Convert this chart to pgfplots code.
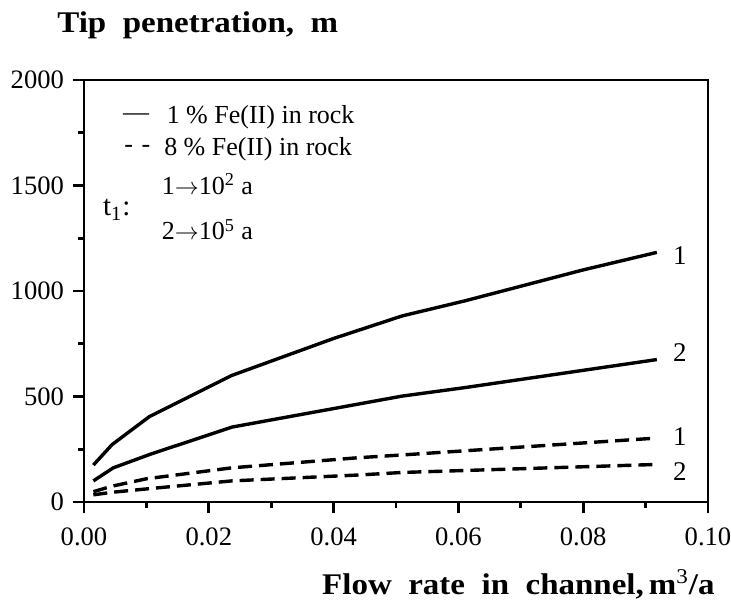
\documentclass[border=0pt]{standalone}
\usepackage{fontspec}
\setmainfont{Liberation Serif}
\newfontfamily\headfont[FakeStretch=1.1]{Liberation Serif}
\usepackage{pgfplots}
\pgfplotsset{compat=1.18}

\newcommand{\arr}{\ensuremath{\rightarrow}}

\begin{document}
\begin{tikzpicture}
\begin{axis}[
  name=ax,
  scale only axis,
  width=312pt, height=211pt,
  xmin=0, xmax=0.1, ymin=0, ymax=2000,
  clip=false,
  axis line style={line width=1.4pt},
  xtick={0,0.02,0.04,0.06,0.08,0.1},
  xticklabels={0.00,0.02,0.04,0.06,0.08,0.10},
  minor xtick={0.01,0.03,0.05,0.07,0.09},
  ytick={0,500,1000,1500,2000},
  yticklabels={0,500,1000,1500,2000},
  minor ytick={250,750,1250,1750},
  tick align=outside, tick pos=left,
  major tick length=5.5pt, minor tick length=3pt,
  every tick/.style={black, line width=1.4pt},
  /pgf/number format/assume math mode=true,
  tick label style={font=\fontsize{13.3}{15}\selectfont},
  xticklabel style={yshift=-4pt},
  yticklabel style={xshift=-1pt},
]
% 1 % Fe(II), t1 = 10^2 a
\addplot[black, line width=1.7pt, line join=round] coordinates {
  (0.0015,175) (0.0045,272) (0.0105,405) (0.0237,600) (0.040,775)
  (0.051,882) (0.061,953) (0.080,1100) (0.0918,1183)};
% 1 % Fe(II), t1 = 10^5 a
\addplot[black, line width=1.7pt, line join=round] coordinates {
  (0.0015,100) (0.0047,162) (0.0105,225) (0.0237,355) (0.051,502)
  (0.061,542) (0.0918,675)};
% 8 % Fe(II), t1 = 10^2 a
\addplot[black, line width=1.7pt, dash pattern=on 7pt off 3.5pt] coordinates {
  (0.0015,49) (0.0045,75) (0.010,110) (0.0237,162) (0.044,210)
  (0.051,223) (0.0918,303)};
% 8 % Fe(II), t1 = 10^5 a
\addplot[black, line width=1.7pt, dash pattern=on 7pt off 3.5pt] coordinates {
  (0.0015,34) (0.0045,46) (0.010,62) (0.0237,100) (0.044,128)
  (0.051,140) (0.0918,178)};

% curve numbers
\begin{scope}[every node/.style={font=\fontsize{13.5}{15}\selectfont}]
\node at (axis cs:0.0955,1170) {1};
\node at (axis cs:0.0955,706) {2};
\node at (axis cs:0.0955,308) {1};
\node at (axis cs:0.0955,142) {2};
\end{scope}

% key
\begin{scope}[every node/.style={font=\fontsize{13}{15}\selectfont, inner sep=0pt}]
\node[anchor=west] at (axis cs:0.0062,1822) {—};
\node[anchor=west] at (axis cs:0.0064,1672) {-\,\,-};
\node[anchor=west] at (axis cs:0.0132,1822) {1 \% Fe(II) in rock};
\node[anchor=west] at (axis cs:0.0128,1672) {8 \% Fe(II) in rock};
\node[anchor=west, font=\fontsize{14.5}{16}\selectfont] at (axis cs:0.0030,1385) {t\textsubscript{1}:};
\node[anchor=west] at (axis cs:0.0124,1505) {1\arr10\textsuperscript{2} a};
\node[anchor=west] at (axis cs:0.0124,1290) {2\arr10\textsuperscript{5} a};
\end{scope}

% axis titles
\node[anchor=base west, inner sep=0pt, font=\headfont\bfseries\fontsize{15}{17}\selectfont]
  at ([shift={(-13.5pt,23.5pt)}]rel axis cs:0,1) {Tip\ \ penetration,\ \ m};
\node[anchor=base east, inner sep=0pt, font=\headfont\bfseries\fontsize{15}{17}\selectfont]
  at ([shift={(3.5pt,-46pt)}]rel axis cs:1,0) {Flow\ \ rate\ \ in\ \ channel,\,m\textsuperscript{\mdseries 3}/a};
\end{axis}
\pgfresetboundingbox
\path ([shift={(-42pt,-50.5pt)}]ax.south west) rectangle ([shift={(11.5pt,40pt)}]ax.north east);
\end{tikzpicture}
\end{document}
